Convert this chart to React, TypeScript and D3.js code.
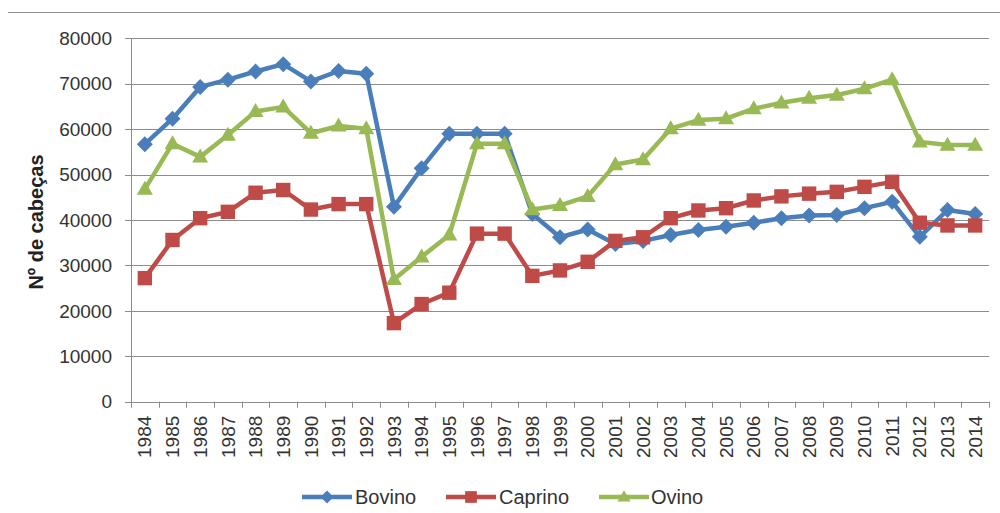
import React from "react";
import * as d3 from "d3";

const years = ["1984","1985","1986","1987","1988","1989","1990","1991","1992","1993","1994","1995","1996","1997","1998","1999","2000","2001","2002","2003","2004","2005","2006","2007","2008","2009","2010","2011","2012","2013","2014"];
const bovino = [56700, 62300, 69300, 70900, 72700, 74300, 70500, 72800, 72200, 42900, 51400, 59000, 59000, 59000, 41300, 36200, 37900, 34700, 35400, 36700, 37800, 38500, 39400, 40400, 41000, 41100, 42600, 44000, 36300, 42200, 41300];
const caprino = [27200, 35600, 40400, 41800, 46000, 46600, 42300, 43500, 43500, 17300, 21500, 24000, 37000, 37000, 27700, 28900, 30800, 35400, 36200, 40400, 42100, 42600, 44300, 45200, 45800, 46200, 47300, 48400, 39400, 38800, 38800];
const ovino = [46800, 56800, 53900, 58700, 63900, 64900, 59100, 60700, 60100, 26900, 31900, 36700, 56800, 56800, 42300, 43200, 45200, 52200, 53300, 60100, 62000, 62300, 64500, 65800, 66800, 67500, 68900, 70900, 57200, 56500, 56500];
const yTicks = [0, 10000, 20000, 30000, 40000, 50000, 60000, 70000, 80000];
const seriesNames = ["Bovino", "Caprino", "Ovino"];

const W = 1000, H = 513;
const left = 131, right = 989, top = 38.3, bottom = 401.7;
const font = "'Liberation Sans', Arial, sans-serif";
const textColor = "#333";
const gridColor = "#8c8c8c";

const series = [
  { name: seriesNames[0], values: bovino, color: "#4A7EBB", marker: "diamond" },
  { name: seriesNames[1], values: caprino, color: "#BE4B48", marker: "square" },
  { name: seriesNames[2], values: ovino, color: "#98B954", marker: "triangle" },
];

function markerPath(type: string, s: number) {
  if (type === "diamond") return `M0,${-s}L${s},0L0,${s}L${-s},0Z`;
  if (type === "square") return `M${-s * 0.9},${-s * 0.9}H${s * 0.9}V${s * 0.9}H${-s * 0.9}Z`;
  return `M0,${-s * 1.05}L${s},${s * 0.7}L${-s},${s * 0.7}Z`;
}

export default function App() {
  const x = d3.scaleBand<string>().domain(years).range([left, right]).paddingInner(0).paddingOuter(0);
  const y = d3.scaleLinear().domain([0, 80000]).range([bottom, top]);
  const cx = (yr: string) => (x(yr) as number) + x.bandwidth() / 2;
  const line = d3.line<number>().x((_, i) => cx(years[i])).y((v) => y(v));
  const boundaries = years.map((yr) => x(yr) as number).concat([right]);

  const legendItems = [
    { lx: 302, tx: 355 },
    { lx: 446, tx: 499 },
    { lx: 599, tx: 651 },
  ];

  return (
    <svg width={W} height={H} style={{ position: "absolute", left: 0, top: 0, background: "#fff" }} fontFamily={font}>
      <line x1={8} x2={1000} y1={12.5} y2={12.5} stroke="#8c8c8c" strokeWidth={1.2} />
      {yTicks.map((t) => (
        <g key={t}>
          <line x1={125} x2={right} y1={Math.round(y(t)) + 0.5} y2={Math.round(y(t)) + 0.5} stroke={gridColor} strokeWidth={1} />
          <text x={112} y={y(t)} dy="0.35em" textAnchor="end" fontSize={19} fill={textColor}>{t}</text>
        </g>
      ))}
      <line x1={left + 0.5} x2={left + 0.5} y1={top} y2={bottom + 6} stroke={gridColor} strokeWidth={1} />
      {boundaries.map((b, i) => (
        <line key={i} x1={Math.round(b) + 0.5} x2={Math.round(b) + 0.5} y1={bottom} y2={bottom + 6} stroke={gridColor} strokeWidth={1} />
      ))}
      {years.map((yr) => (
        <text key={yr} transform={`translate(${cx(yr)},${bottom + 14}) rotate(-90)`} dy="0.35em" textAnchor="end" fontSize={19} fill={textColor}>{yr}</text>
      ))}
      <text transform={`translate(36,222) rotate(-90)`} dy="0.35em" textAnchor="middle" fontSize={20} fontWeight="bold" fill="#222">Nº de cabeças</text>
      {series.map((s) => (
        <g key={s.name}>
          <path d={line(s.values) || ""} fill="none" stroke={s.color} strokeWidth={4.5} strokeLinejoin="round" />
          {s.values.map((v, i) => (
            <path key={i} d={markerPath(s.marker, 8)} transform={`translate(${cx(years[i])},${y(v)})`} fill={s.color} />
          ))}
        </g>
      ))}
      {series.map((s, i) => (
        <g key={"lg" + s.name}>
          <line x1={legendItems[i].lx} x2={legendItems[i].lx + 50} y1={497} y2={497} stroke={s.color} strokeWidth={4.5} />
          <path d={markerPath(s.marker, 6.5)} transform={`translate(${legendItems[i].lx + 25},497)`} fill={s.color} />
          <text x={legendItems[i].tx} y={497} dy="0.35em" fontSize={20} fill={textColor}>{s.name}</text>
        </g>
      ))}
    </svg>
  );
}
